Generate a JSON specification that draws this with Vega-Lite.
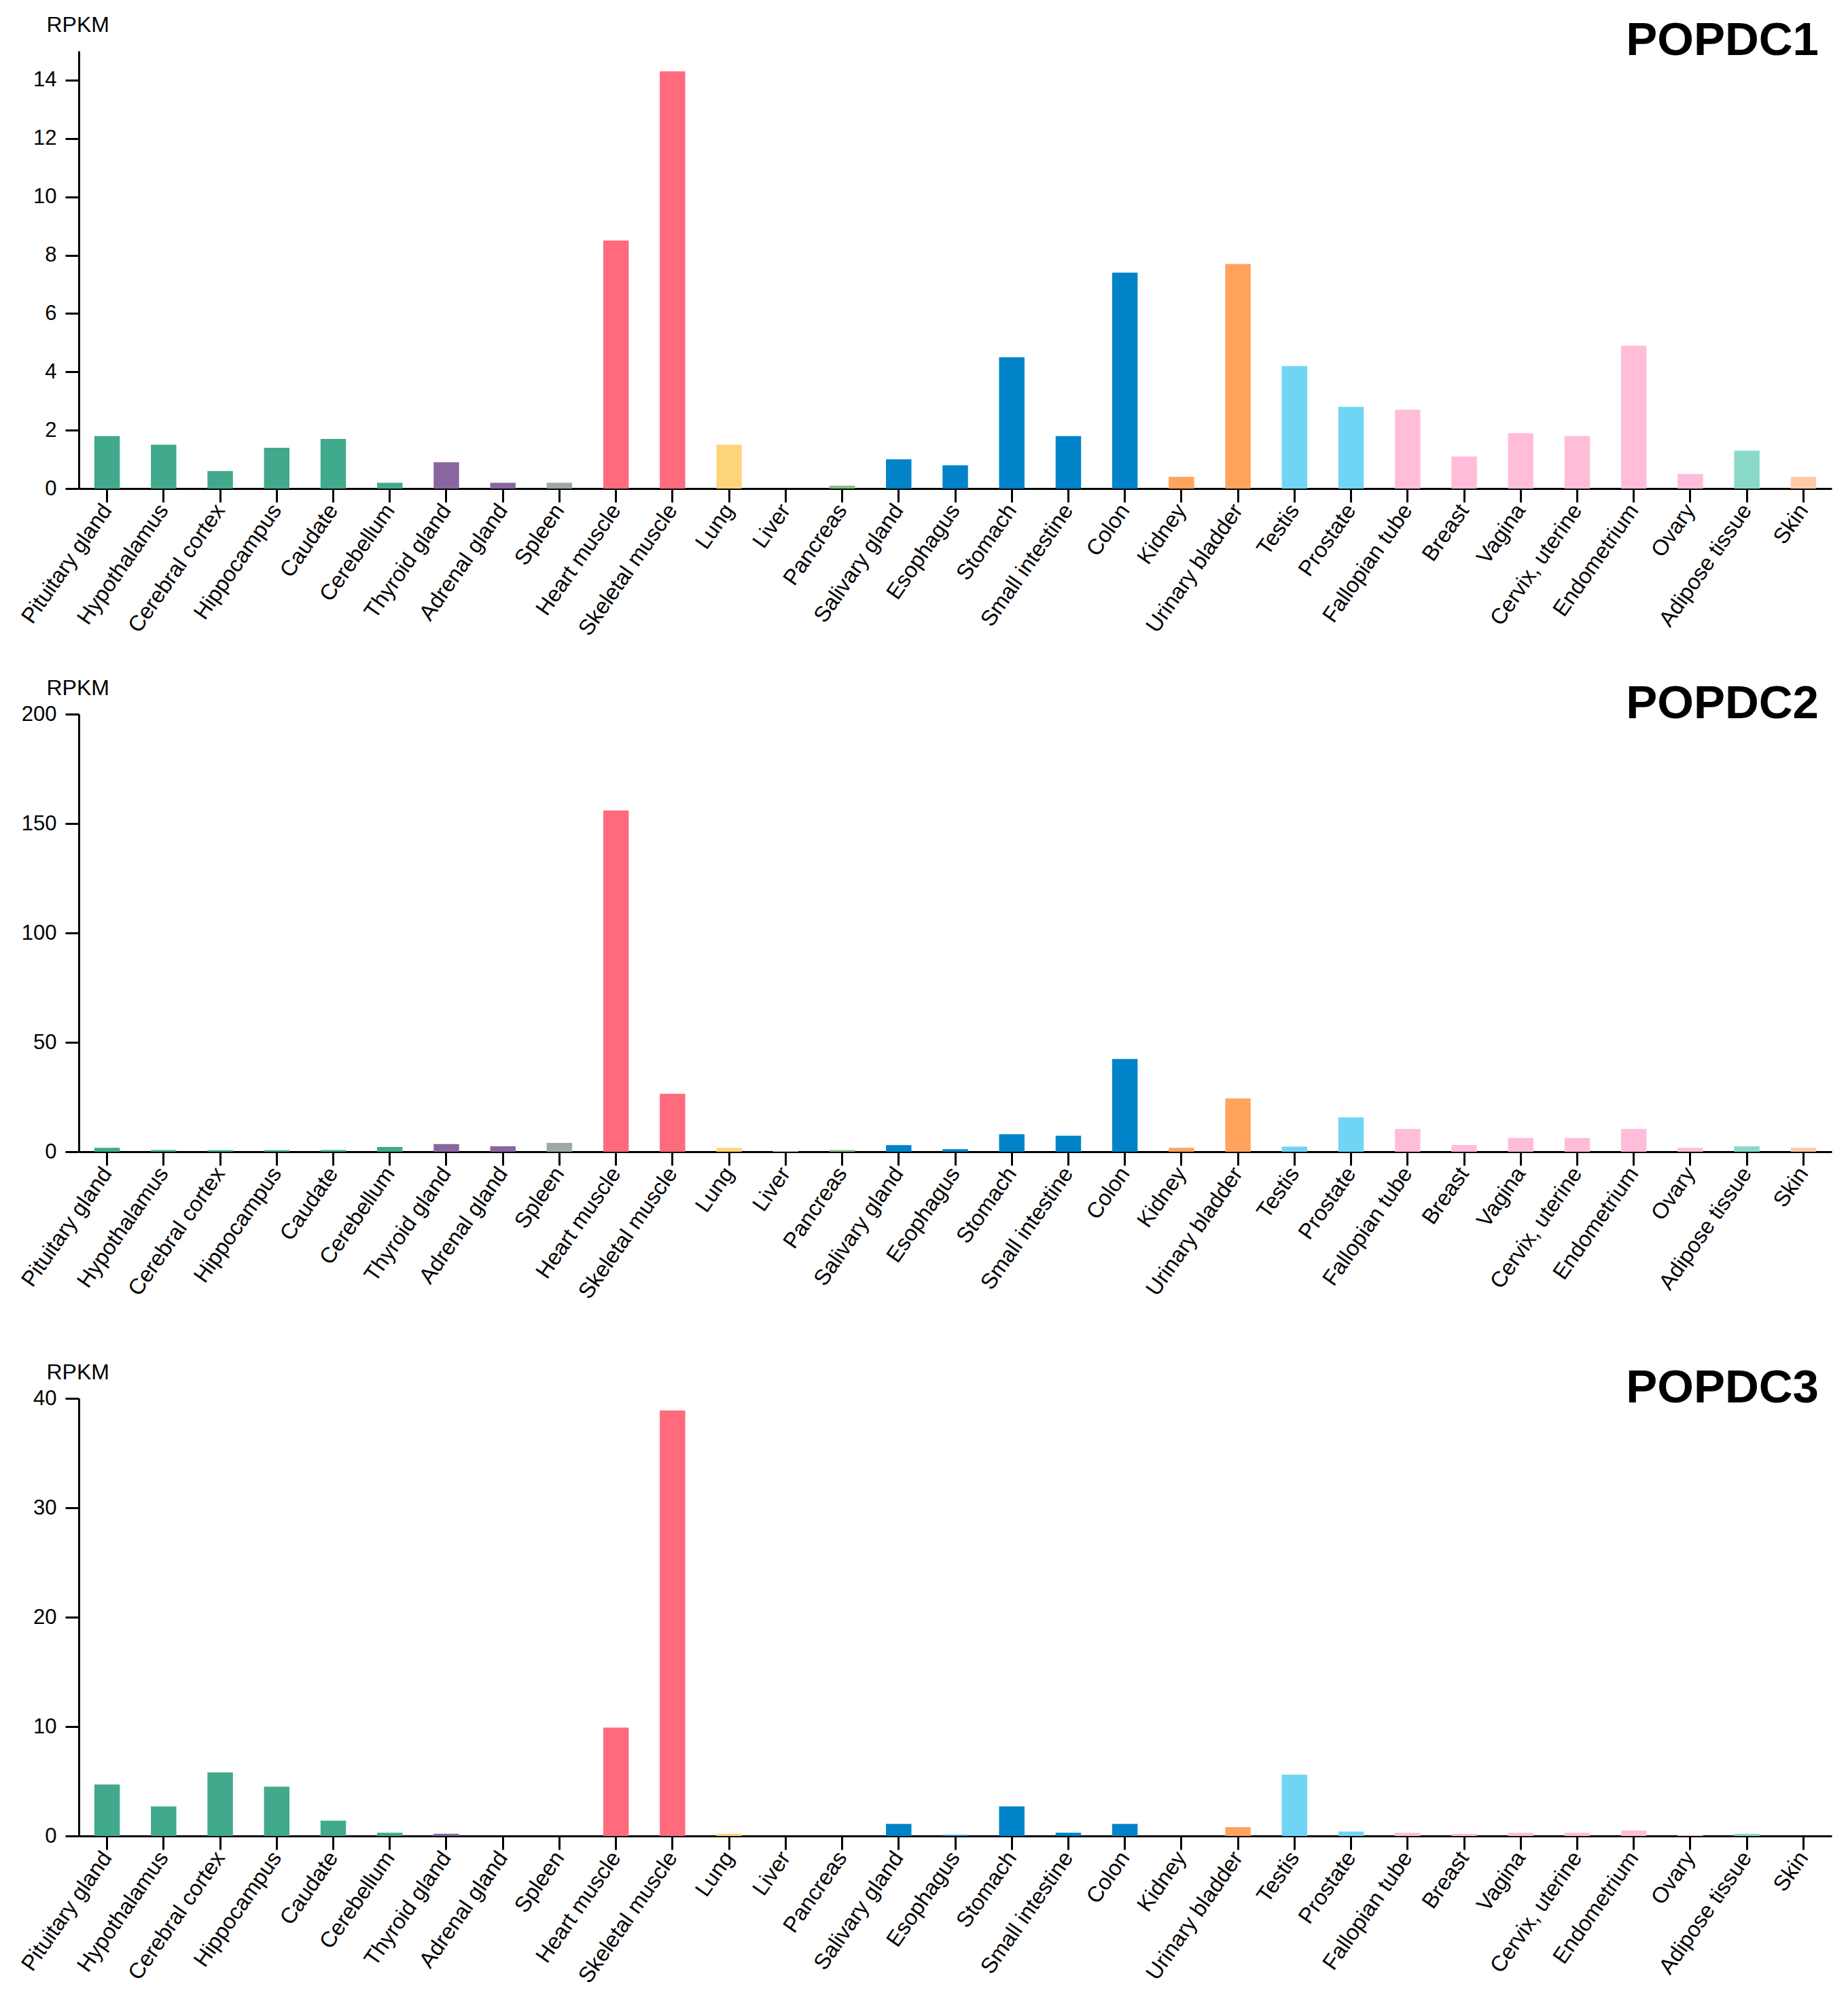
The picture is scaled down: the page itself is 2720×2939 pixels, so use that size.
{
  "$schema": "https://vega.github.io/schema/vega-lite/v6.json",
  "background": "white",
  "padding": {"left": 25, "top": 20, "right": 10, "bottom": 10},
  "datasets": {
    "rna": [
      {"gene": "POPDC1", "tissue": "Pituitary gland", "group": "brain", "rpkm": 1.8},
      {"gene": "POPDC1", "tissue": "Hypothalamus", "group": "brain", "rpkm": 1.5},
      {"gene": "POPDC1", "tissue": "Cerebral cortex", "group": "brain", "rpkm": 0.6},
      {"gene": "POPDC1", "tissue": "Hippocampus", "group": "brain", "rpkm": 1.4},
      {"gene": "POPDC1", "tissue": "Caudate", "group": "brain", "rpkm": 1.7},
      {"gene": "POPDC1", "tissue": "Cerebellum", "group": "brain", "rpkm": 0.2},
      {"gene": "POPDC1", "tissue": "Thyroid gland", "group": "endocrine", "rpkm": 0.9},
      {"gene": "POPDC1", "tissue": "Adrenal gland", "group": "endocrine", "rpkm": 0.2},
      {"gene": "POPDC1", "tissue": "Spleen", "group": "lymphoid", "rpkm": 0.2},
      {"gene": "POPDC1", "tissue": "Heart muscle", "group": "muscle", "rpkm": 8.5},
      {"gene": "POPDC1", "tissue": "Skeletal muscle", "group": "muscle", "rpkm": 14.3},
      {"gene": "POPDC1", "tissue": "Lung", "group": "lung", "rpkm": 1.5},
      {"gene": "POPDC1", "tissue": "Liver", "group": "liver", "rpkm": 0},
      {"gene": "POPDC1", "tissue": "Pancreas", "group": "pancreas", "rpkm": 0.1},
      {"gene": "POPDC1", "tissue": "Salivary gland", "group": "gi", "rpkm": 1.0},
      {"gene": "POPDC1", "tissue": "Esophagus", "group": "gi", "rpkm": 0.8},
      {"gene": "POPDC1", "tissue": "Stomach", "group": "gi", "rpkm": 4.5},
      {"gene": "POPDC1", "tissue": "Small intestine", "group": "gi", "rpkm": 1.8},
      {"gene": "POPDC1", "tissue": "Colon", "group": "gi", "rpkm": 7.4},
      {"gene": "POPDC1", "tissue": "Kidney", "group": "urinary", "rpkm": 0.4},
      {"gene": "POPDC1", "tissue": "Urinary bladder", "group": "urinary", "rpkm": 7.7},
      {"gene": "POPDC1", "tissue": "Testis", "group": "male", "rpkm": 4.2},
      {"gene": "POPDC1", "tissue": "Prostate", "group": "male", "rpkm": 2.8},
      {"gene": "POPDC1", "tissue": "Fallopian tube", "group": "female", "rpkm": 2.7},
      {"gene": "POPDC1", "tissue": "Breast", "group": "female", "rpkm": 1.1},
      {"gene": "POPDC1", "tissue": "Vagina", "group": "female", "rpkm": 1.9},
      {"gene": "POPDC1", "tissue": "Cervix, uterine", "group": "female", "rpkm": 1.8},
      {"gene": "POPDC1", "tissue": "Endometrium", "group": "female", "rpkm": 4.9},
      {"gene": "POPDC1", "tissue": "Ovary", "group": "female", "rpkm": 0.5},
      {"gene": "POPDC1", "tissue": "Adipose tissue", "group": "adipose", "rpkm": 1.3},
      {"gene": "POPDC1", "tissue": "Skin", "group": "skin", "rpkm": 0.4},

      {"gene": "POPDC2", "tissue": "Pituitary gland", "group": "brain", "rpkm": 1.8},
      {"gene": "POPDC2", "tissue": "Hypothalamus", "group": "brain", "rpkm": 0.8},
      {"gene": "POPDC2", "tissue": "Cerebral cortex", "group": "brain", "rpkm": 0.7},
      {"gene": "POPDC2", "tissue": "Hippocampus", "group": "brain", "rpkm": 0.7},
      {"gene": "POPDC2", "tissue": "Caudate", "group": "brain", "rpkm": 0.8},
      {"gene": "POPDC2", "tissue": "Cerebellum", "group": "brain", "rpkm": 2.2},
      {"gene": "POPDC2", "tissue": "Thyroid gland", "group": "endocrine", "rpkm": 3.5},
      {"gene": "POPDC2", "tissue": "Adrenal gland", "group": "endocrine", "rpkm": 2.5},
      {"gene": "POPDC2", "tissue": "Spleen", "group": "lymphoid", "rpkm": 4.0},
      {"gene": "POPDC2", "tissue": "Heart muscle", "group": "muscle", "rpkm": 156},
      {"gene": "POPDC2", "tissue": "Skeletal muscle", "group": "muscle", "rpkm": 26.5},
      {"gene": "POPDC2", "tissue": "Lung", "group": "lung", "rpkm": 1.8},
      {"gene": "POPDC2", "tissue": "Liver", "group": "liver", "rpkm": 0.4},
      {"gene": "POPDC2", "tissue": "Pancreas", "group": "pancreas", "rpkm": 0.8},
      {"gene": "POPDC2", "tissue": "Salivary gland", "group": "gi", "rpkm": 3.0},
      {"gene": "POPDC2", "tissue": "Esophagus", "group": "gi", "rpkm": 1.2},
      {"gene": "POPDC2", "tissue": "Stomach", "group": "gi", "rpkm": 8.0},
      {"gene": "POPDC2", "tissue": "Small intestine", "group": "gi", "rpkm": 7.3},
      {"gene": "POPDC2", "tissue": "Colon", "group": "gi", "rpkm": 42.4},
      {"gene": "POPDC2", "tissue": "Kidney", "group": "urinary", "rpkm": 1.8},
      {"gene": "POPDC2", "tissue": "Urinary bladder", "group": "urinary", "rpkm": 24.4},
      {"gene": "POPDC2", "tissue": "Testis", "group": "male", "rpkm": 2.3},
      {"gene": "POPDC2", "tissue": "Prostate", "group": "male", "rpkm": 15.7},
      {"gene": "POPDC2", "tissue": "Fallopian tube", "group": "female", "rpkm": 10.4},
      {"gene": "POPDC2", "tissue": "Breast", "group": "female", "rpkm": 3.0},
      {"gene": "POPDC2", "tissue": "Vagina", "group": "female", "rpkm": 6.3},
      {"gene": "POPDC2", "tissue": "Cervix, uterine", "group": "female", "rpkm": 6.3},
      {"gene": "POPDC2", "tissue": "Endometrium", "group": "female", "rpkm": 10.4},
      {"gene": "POPDC2", "tissue": "Ovary", "group": "female", "rpkm": 1.8},
      {"gene": "POPDC2", "tissue": "Adipose tissue", "group": "adipose", "rpkm": 2.5},
      {"gene": "POPDC2", "tissue": "Skin", "group": "skin", "rpkm": 1.8},

      {"gene": "POPDC3", "tissue": "Pituitary gland", "group": "brain", "rpkm": 4.7},
      {"gene": "POPDC3", "tissue": "Hypothalamus", "group": "brain", "rpkm": 2.7},
      {"gene": "POPDC3", "tissue": "Cerebral cortex", "group": "brain", "rpkm": 5.8},
      {"gene": "POPDC3", "tissue": "Hippocampus", "group": "brain", "rpkm": 4.5},
      {"gene": "POPDC3", "tissue": "Caudate", "group": "brain", "rpkm": 1.4},
      {"gene": "POPDC3", "tissue": "Cerebellum", "group": "brain", "rpkm": 0.3},
      {"gene": "POPDC3", "tissue": "Thyroid gland", "group": "endocrine", "rpkm": 0.2},
      {"gene": "POPDC3", "tissue": "Adrenal gland", "group": "endocrine", "rpkm": 0},
      {"gene": "POPDC3", "tissue": "Spleen", "group": "lymphoid", "rpkm": 0},
      {"gene": "POPDC3", "tissue": "Heart muscle", "group": "muscle", "rpkm": 9.9},
      {"gene": "POPDC3", "tissue": "Skeletal muscle", "group": "muscle", "rpkm": 38.9},
      {"gene": "POPDC3", "tissue": "Lung", "group": "lung", "rpkm": 0.2},
      {"gene": "POPDC3", "tissue": "Liver", "group": "liver", "rpkm": 0},
      {"gene": "POPDC3", "tissue": "Pancreas", "group": "pancreas", "rpkm": 0},
      {"gene": "POPDC3", "tissue": "Salivary gland", "group": "gi", "rpkm": 1.1},
      {"gene": "POPDC3", "tissue": "Esophagus", "group": "gi", "rpkm": 0.1},
      {"gene": "POPDC3", "tissue": "Stomach", "group": "gi", "rpkm": 2.7},
      {"gene": "POPDC3", "tissue": "Small intestine", "group": "gi", "rpkm": 0.3},
      {"gene": "POPDC3", "tissue": "Colon", "group": "gi", "rpkm": 1.1},
      {"gene": "POPDC3", "tissue": "Kidney", "group": "urinary", "rpkm": 0},
      {"gene": "POPDC3", "tissue": "Urinary bladder", "group": "urinary", "rpkm": 0.8},
      {"gene": "POPDC3", "tissue": "Testis", "group": "male", "rpkm": 5.6},
      {"gene": "POPDC3", "tissue": "Prostate", "group": "male", "rpkm": 0.4},
      {"gene": "POPDC3", "tissue": "Fallopian tube", "group": "female", "rpkm": 0.3},
      {"gene": "POPDC3", "tissue": "Breast", "group": "female", "rpkm": 0.2},
      {"gene": "POPDC3", "tissue": "Vagina", "group": "female", "rpkm": 0.3},
      {"gene": "POPDC3", "tissue": "Cervix, uterine", "group": "female", "rpkm": 0.3},
      {"gene": "POPDC3", "tissue": "Endometrium", "group": "female", "rpkm": 0.5},
      {"gene": "POPDC3", "tissue": "Ovary", "group": "female", "rpkm": 0.1},
      {"gene": "POPDC3", "tissue": "Adipose tissue", "group": "adipose", "rpkm": 0.2},
      {"gene": "POPDC3", "tissue": "Skin", "group": "skin", "rpkm": 0}
    ]
  },
  "data": {"name": "rna"},
  "bounds": "flush",
  "spacing": 332,
  "resolve": {"scale": {"x": "independent", "y": "independent"}},
  "vconcat": [
    {
      "width": 2580,
      "height": 644,
      "title": {"text": "POPDC1"},
      "transform": [{"filter": "datum.gene === 'POPDC1'"}],
      "mark": {"type": "bar"},
      "encoding": {
        "x": {"field": "tissue", "type": "nominal", "sort": null, "title": null,
              "scale": {"paddingInner": 0.55, "paddingOuter": 0.275}},
        "y": {"field": "rpkm", "type": "quantitative", "title": "RPKM",
              "scale": {"domain": [0, 15], "nice": false},
              "axis": {"values": [0, 2, 4, 6, 8, 10, 12, 14]}},
        "color": {"field": "group", "type": "nominal", "legend": null,
                  "scale": {
                    "domain": ["brain", "endocrine", "lymphoid", "muscle", "lung", "liver", "pancreas", "gi", "urinary", "male", "female", "adipose", "skin"],
                    "range": ["#41a98c", "#8867a0", "#9fa8a6", "#ff6a7d", "#ffd57b", "#d3cbe6", "#86bd84", "#0083c8", "#ffa35d", "#70d5f5", "#ffbdd9", "#8ad9c8", "#ffcaa8"]}}
      }
    },
    {
      "bounds": "flush",
      "spacing": 363,
      "resolve": {"scale": {"x": "independent", "y": "independent"}},
      "vconcat": [
        {
          "width": 2580,
          "height": 644,
          "title": {"text": "POPDC2"},
          "transform": [{"filter": "datum.gene === 'POPDC2'"}],
          "mark": {"type": "bar"},
          "encoding": {
            "x": {"field": "tissue", "type": "nominal", "sort": null, "title": null,
                  "scale": {"paddingInner": 0.55, "paddingOuter": 0.275}},
            "y": {"field": "rpkm", "type": "quantitative", "title": "RPKM",
                  "scale": {"domain": [0, 200], "nice": false},
                  "axis": {"values": [0, 50, 100, 150, 200]}},
            "color": {"field": "group", "type": "nominal", "legend": null}
          }
        },
        {
          "width": 2580,
          "height": 644,
          "title": {"text": "POPDC3"},
          "transform": [{"filter": "datum.gene === 'POPDC3'"}],
          "mark": {"type": "bar"},
          "encoding": {
            "x": {"field": "tissue", "type": "nominal", "sort": null, "title": null,
                  "scale": {"paddingInner": 0.55, "paddingOuter": 0.275}},
            "y": {"field": "rpkm", "type": "quantitative", "title": "RPKM",
                  "scale": {"domain": [0, 40], "nice": false},
                  "axis": {"values": [0, 10, 20, 30, 40]}},
            "color": {"field": "group", "type": "nominal", "legend": null}
          }
        }
      ]
    }
  ],
  "config": {
    "font": "Liberation Sans",
    "view": {"stroke": null},
    "axis": {
      "grid": false,
      "domainColor": "#000000",
      "domainWidth": 3,
      "tickColor": "#000000",
      "tickWidth": 3,
      "tickSize": 20,
      "labelColor": "#000000",
      "labelFont": "Liberation Sans",
      "labelFontSize": 31,
      "titleFont": "Liberation Sans",
      "titleColor": "#000000"
    },
    "axisX": {"labelAngle": -55, "labelPadding": 6, "labelFontSize": 32.5, "labelLimit": 0},
    "axisY": {
      "labelPadding": 13,
      "titleAngle": 0,
      "titleAlign": "left",
      "titleBaseline": "alphabetic",
      "titleX": -48,
      "titleY": -29,
      "titleFontSize": 32,
      "titleFontWeight": "normal"
    },
    "title": {
      "anchor": "end",
      "frame": "group",
      "baseline": "alphabetic",
      "offset": -75,
      "dx": -19,
      "fontSize": 69,
      "fontWeight": "bold",
      "font": "Liberation Sans",
      "color": "#000000"
    }
  }
}
